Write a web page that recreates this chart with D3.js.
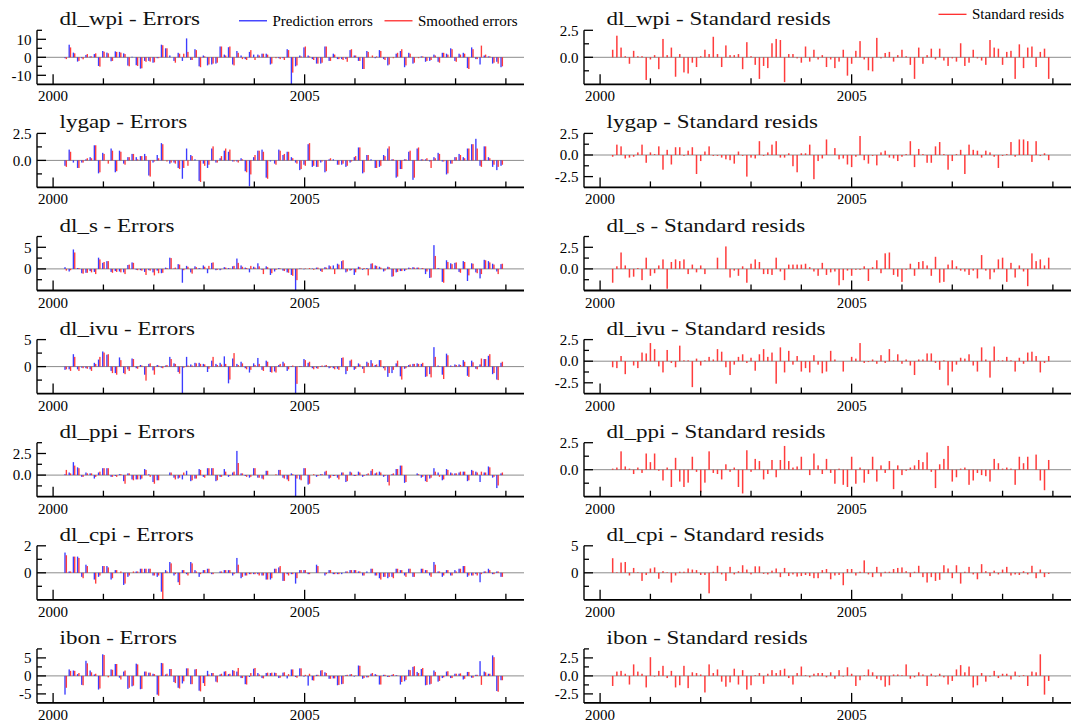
<!DOCTYPE html>
<html><head><meta charset="utf-8">
<script src="https://cdn.jsdelivr.net/npm/d3@7"></script>
<style>body{margin:0;background:#fff}svg{display:block}</style>
</head><body>
<svg id="c" width="1072" height="724"></svg>
<script>
// ---------- data ----------
const startYear = 2000, startMonth = 4;          // first observation 2000(4), monthly, to 2008(12)
const variables = ["dl_wpi","lygap","dl_s","dl_ivu","dl_ppi","dl_cpi","ibon"];
const yearTicks = [2000,2001,2002,2003,2004,2005,2006,2007,2008,2009];
const yearLabels = [2000,2005];
const legendLeft = ["Prediction errors","Smoothed errors"];
const legendRight = ["Standard resids"];

// y-axis domains and tick steps (minor, labelled)
const errDomain = [[-15,15],[-2.5,2.5],[-5,7.5],[-5,5],[-2.5,3.75],[-2,2],[-7.5,7.5]];
const errMinor  = [5,1.25,2.5,2.5,1.25,1,2.5];
const errMajor  = [10,2.5,5,5,2.5,2,5];
const resDomain = [[-2.5,2.5],[-3.75,2.5],[-2.5,3.75],[-3.75,2.5],[-2.5,2.5],[-5,5],[-3.75,3.75]];
const resMinor  = [1.25,1.25,1.25,1.25,1.25,2.5,1.25];
const resMajor  = [2.5,2.5,2.5,2.5,2.5,5,2.5];

// prediction errors (blue) and smoothed errors (red)
const wpiPred = [-0.5,7,2.6,-2.4,-0.5,1.3,0.5,1.8,-4.8,
 3.5,2.6,-2.2,3.3,3,2.2,-4.6,0.3,-4.4,-6.3,-2,-2,
 -3,-0.5,7,5,1,-2,2.5,-2,10.5,-1.5,4.5,-5,
 1,-4.5,-4,-3.5,6,1.5,5.6,-4,3.5,1,-1,3,
 1.5,1.5,2,2,-4,0,-0.5,-0.5,4.5,-15,-5,1,
 5.5,1,-1,-3.5,-3.5,6,-2,2,-1,-1,-1,4,
 1,-2,-6.5,3.5,0,-0.5,4,-1,-4.5,0,2,3.5,
 -5.5,2.5,-3.5,0,0.5,-2.5,-2,1.5,-2.5,2.5,2,5,
 -2,2,2.5,-6,5.5,-1,-4,1,0.5,-3.5,-2.5,-5.5];
const wpiSmooth = [-1,5.5,2.2,-2,-1.1,1.8,0.5,2.2,-5.2,
 3.1,2.2,-2,3,2.6,1.8,-5,0,-4.8,-6.1,-2.5,-2.4,
 -2.8,-0.5,6.7,5,0,-3,2,2,3,-1.5,4,-5.5,
 0.5,-4,-3.5,-3,6,1,6,-4.5,2.5,-1,-1.5,4,
 -1.5,1,2,1.5,-3.5,-0.5,-1,-1.5,4,-8.5,-4.5,0.5,
 6,0.5,-1.5,-3.5,-3,6,-2,1.5,-1,-1.5,-2.5,4.5,
 1,-2,-6.5,3,1,0.5,3.5,-1.5,-4,-0.5,2.5,4.5,
 -4.5,2,-3,-0.5,0.5,-2,-1.5,1,-3,2.5,1.5,4.5,
 -2.5,1.5,2,-6.5,4.5,-1,6.5,1.5,0.5,-3,-3.5,-5];
const lygapPred = [-0.5,1.0,-0.2,-0.7,-0.2,0.1,0.3,1.4,-1.2,
 0.7,0,1.1,-1.1,0.9,-0.3,0.3,0.6,0.3,0.4,0.6,-1.4,
 -0.2,0.5,1.6,0,-0.3,-0.2,-0.7,-1.7,1.1,0.5,0.1,-1.9,
 -0.3,-0.7,1.1,-0.2,0.2,0.9,0.8,-0.1,-0.1,0.2,-1.0,-2.4,
 0.3,0.9,1.0,-1.6,-0.1,-0.3,1.0,0.5,0.8,0.3,-0.2,-0.9,
 -0.4,1.5,-0.6,-0.6,-0.2,-1.1,0.1,0.1,-0.4,-0.4,-0.6,-0.2,
 0.3,1.2,-1.2,0.5,0.1,-0.7,-0.6,0.5,1.1,0.1,-1.6,-0.8,
 0.1,0.8,-1.8,1.1,0.1,0.1,-0.1,0.3,0.7,-0.1,-1.3,-0.3,
 0.3,0.6,0.3,1.1,1.5,2.0,-0.5,1.3,0.3,-0.6,-0.9,-0.5];
const lygapSmooth = [-0.6,0.8,0,-0.7,-0.2,0.2,0.2,1.4,-1.1,
 0.6,-0.3,0.9,-1.0,0.8,-0.4,0.3,0.6,0.1,0.4,0.4,-1.5,
 -0.1,0.2,1.5,-0.1,-0.2,-0.3,-0.8,-0.7,-0.5,0.4,0,-2.0,
 -0.5,-0.4,1.3,-0.2,0.4,1.1,1.0,-0.1,-0.2,0.1,-1.1,-1.3,
 0.5,0.9,0.8,-1.7,0,-0.4,0.9,0.6,0.8,0.2,-0.3,-0.8,
 -0.5,1.6,-0.5,-0.6,-0.1,-1.0,0.2,0,-0.4,-0.3,-0.5,-0.1,
 0.4,1.2,-1.1,0.5,0,-0.7,-0.5,0.4,1.3,0.1,-1.5,-0.8,
 0.1,0.9,-1.6,1.2,0.1,0.2,-0.7,0.2,0.6,-0.1,-1.2,-0.3,
 0.3,0.5,0.2,1.1,1.5,1.1,-0.6,1.3,0.2,-0.4,-0.6,-0.4];
const sPred = [0.4,-0.6,4.5,0.2,-1.0,-0.9,-0.5,-0.7,2.6,
 1.4,1.8,-0.7,-0.5,-0.6,-0.8,0.9,1.5,-0.2,-0.3,-0.7,-0.3,
 -0.8,-0.4,-1.0,0.3,2.6,0.1,1.1,-3.2,0.7,-0.8,0.6,0.2,
 0.8,-1.0,1.4,-0.3,-0.3,0.4,0.2,0.6,2.4,0.8,0.3,-0.8,
 0.5,1.3,-0.2,0.6,-1.4,-0.6,0.2,-0.4,-0.8,-1.4,-5.0,0.1,
 -0.1,0,0.1,0.3,-0.5,0.4,0.8,0.8,1.2,1.8,-0.8,-0.4,
 -1.4,0.5,-0.2,0.2,1.2,0.8,0.5,-0.6,0.5,-1.8,-0.8,-0.5,
 -0.5,0.3,0.4,0.3,0.1,-1.2,-2.1,5.5,0.2,-3.0,2.0,1.3,
 1.4,-0.7,1.8,-2.8,1.3,-0.8,-2.2,2.1,1.8,1.2,-0.6,1.1];
const sSmooth = [-0.4,-0.3,3.8,0.2,-1.1,-0.9,-0.8,-1.2,2.2,
 1.6,1.8,-0.9,-0.7,-0.8,-1.2,1.0,1.4,-0.3,-0.4,-1.4,-0.4,
 -1.5,-1.0,-0.9,0.2,2.5,0.3,1.0,-0.3,0.5,-1.1,0.4,0.1,
 0.5,0.7,1.5,-0.2,-0.1,0.3,0.1,0.7,1.4,0.5,0.2,0.7,
 0.3,0.6,-1.2,0.4,-1.0,-0.2,0.1,-0.5,-0.9,-1.6,-2.6,0.1,
 0.1,0.2,-0.2,0.3,-0.7,0.3,0.6,-1.2,1.0,2.0,-0.6,-0.3,
 -0.8,0.4,0.2,-1.5,1.3,0.7,0.3,-0.4,0.4,-1.7,-0.7,-0.5,
 -0.2,0.2,0.3,0.3,0.2,-0.6,-2.0,3.0,0.1,-3.2,1.6,1.1,
 1.5,-0.9,1.6,-1.5,1.2,-1.0,-1.2,2.0,1.5,1.0,-1.2,1.2];
const ivuPred = [-0.6,-0.5,2.3,-0.5,-0.2,-0.3,-0.5,0.7,1.3,
 2.8,2.2,-0.8,-1.2,1.7,-1.2,-0.5,1.5,-0.3,0.3,-1.5,0.5,
 -0.7,0.3,-0.2,0.2,1.8,0.6,-1.0,-5.0,1.8,0.4,0.7,0.7,
 0.5,-1.0,1.1,0.5,0.7,1.9,-3.1,1.5,0.5,0.9,-0.3,-1.1,
 0.6,1.6,-0.6,1.1,-1.0,-0.9,0.3,0.9,-0.8,0.1,-5.0,0.1,
 1.4,0.7,-0.3,-0.3,0.1,0.2,-0.3,-0.3,-0.4,1.6,-1.4,1.1,
 -0.6,0.6,-0.4,0.9,1.2,0.3,1.2,-0.3,-1.9,-1.2,0.6,-1.8,
 -0.4,0.3,0.5,0.6,0.5,-1.9,-1.4,3.6,0.2,-1.5,2.4,0.2,
 0.4,0.4,1.2,-1.7,1.1,-0.4,0.4,1.4,2.0,-1.4,-2.4,0.7];
const ivuSmooth = [-0.5,-0.8,1.8,-0.8,-0.3,-0.4,-0.8,0.5,1.8,
 2.6,2.3,-1.2,-1.5,1.2,-1.4,-0.8,1.4,-0.4,0.2,-2.6,0.6,
 -1.5,0.2,-0.3,0.3,1.4,0.5,-1.3,-0.2,0.2,0.2,0.6,0.5,
 0.4,-0.4,1.8,0.3,0.4,0.5,-2.4,2.5,0.3,0.6,-0.5,-0.6,
 0.3,0.5,-0.8,0.9,-1.1,-1.1,0.5,0.6,-0.5,0.2,-3.2,0.1,
 1.2,0.9,-0.5,-0.4,0.2,0.3,-0.2,-0.5,-0.6,1.7,-0.8,1.3,
 -0.4,0.4,-1.2,0.7,0.6,0.4,1.2,-0.7,-1.2,-0.6,1.1,-2.4,
 -0.3,0.4,0.5,0.5,0.7,-1.8,-2.0,1.8,0.1,-2.3,2.1,0.1,
 0.3,0.3,0.9,-1.9,0.8,-0.5,1.5,1.4,2.3,-1.2,-2.5,0.9];
const ppiPred = [0.1,0.3,1.5,0.9,-0.2,0.3,0.2,-0.4,0.3,
 0.8,0.8,-0.2,-0.1,0.1,-0.7,0.2,-0.5,-0.5,-0.5,0.7,0.1,
 -0.8,-0.6,0,0,0.3,-0.3,-0.4,-0.5,0.5,-0.7,-0.4,0.7,
 -0.2,0.8,0.8,-0.7,-0.2,0.7,-0.2,0.3,2.8,0.2,-0.1,-0.3,
 0.8,-0.3,-0.4,0.5,0,0,0.6,-0.3,-0.5,0.2,-2.5,-0.5,
 0.8,-1.1,0,-0.2,0.1,0.4,-0.4,-0.1,-0.3,0.3,-0.8,0.4,
 -0.1,0.4,-0.2,0.1,0.5,0.2,0.4,-0.2,-0.8,0.1,0.7,1.1,
 -0.9,0,0,0.2,-0.3,-0.7,-0.4,0.8,0.3,-0.6,0.7,0.3,
 0.2,0.3,0.4,-0.7,0.6,0.4,-0.8,0.3,1.0,-0.3,-1.5,0.2];
const ppiSmooth = [0.6,0.2,1.1,0.8,-0.2,0.2,0.2,-0.2,0.4,
 0.8,0.8,-0.2,-0.2,0.1,-1.0,0.2,-0.6,-0.5,-0.4,0.6,-0.2,
 -1.0,-0.6,0,0,0.3,-0.5,-0.3,0.3,0,-0.6,-0.4,0.6,
 -0.3,0.8,0.8,-0.6,-0.2,0.4,-0.1,0.4,1.4,0.2,-0.2,-0.2,
 0.8,-0.3,-0.5,0.5,0,0.1,0.6,-0.4,-0.7,0.1,-0.4,-0.6,
 0.8,-1.0,0.1,-0.1,0.1,0.5,-0.3,-0.1,-0.5,0.3,-0.7,0.3,
 -0.1,0.3,-0.1,0.2,0.7,0.3,0.3,-0.1,-1.2,0.2,0.7,1.1,
 -0.8,0,0,0.1,-0.2,-0.8,-0.3,0.4,-0.2,-0.5,0.6,0.2,
 0.2,0.4,0.4,-0.6,0.5,0.3,0.4,0.3,0.9,-0.2,-1.2,0.3];
const cpiPred = [1.5,0.1,1.2,1.2,-0.3,0.6,0,-0.5,-0.3,
 0.5,0.5,-0.5,0.2,0,-0.9,-0.3,0,0.1,0.3,0.3,0.3,
 -0.2,-0.3,-1.4,0.2,0.8,-0.2,-0.7,0.2,-0.1,0.8,0.2,-0.3,
 0.2,0.3,-0.1,0,0.1,0.2,0.2,-0.2,1.1,-0.4,-0.2,-0.1,
 -0.1,-0.1,-0.2,-0.5,-0.5,0.3,0.4,-0.6,-0.1,-0.1,-0.8,0.2,
 0.2,-0.1,0,0.6,0,-0.2,0.2,-0.1,-0.1,-0.1,0.1,0.2,
 0.2,0.1,-0.2,0.1,0.3,-0.2,-0.4,-0.3,-0.4,-0.3,0.3,0.2,
 -0.2,0.3,-0.3,0,0.3,0.2,-0.2,0.8,0.1,-0.3,0.2,-0.2,
 0.2,0.3,0.5,-0.3,-0.2,-0.1,-0.7,0.1,0.3,-0.1,0.1,-0.3];
const cpiSmooth = [1.3,0.1,1.2,1.1,-0.4,0.5,0,-0.8,-0.2,
 0.5,0.4,-0.4,0.2,0.1,-0.8,-0.2,0.1,0.1,0.3,0.3,0.3,
 -0.2,-0.2,-2.0,0.1,0.7,-0.1,-0.9,0.2,-0.2,0.7,0.1,-0.1,
 0.2,0.3,-0.1,0,0.1,0.2,0.2,-0.1,0.6,-0.3,-0.2,-0.1,
 -0.1,-0.2,-0.2,-0.5,-0.4,0.3,0.5,-0.6,-0.2,-0.1,-0.4,0.2,
 0.2,-0.1,0,0.5,0,-0.1,0.2,-0.1,-0.1,0,0.1,0.2,
 0.2,0.1,-0.2,0,0.3,-0.2,-0.5,-0.3,-0.3,-0.4,0.3,0.2,
 -0.3,0.3,-0.3,0,0.3,0.2,-0.3,0.6,0.1,-0.2,0.2,-0.2,
 0.1,0.3,0.5,-0.2,-0.2,-0.2,-0.1,0.1,0.2,-0.1,0.1,-0.3];
const ibonPred = [-5.2,1.8,1.5,0.5,-2.5,4.2,1.5,0.4,-3.8,
 6.0,0,1.8,3.3,-0.5,1.2,-3.6,-2.9,3.4,-3.7,1.2,0.9,
 0.6,-5.2,3.6,0.4,1.9,-1.7,-3.3,-2.1,2.1,-2.3,1.8,-4.1,
 -2.0,1.4,0.8,-1.6,0.4,1.2,0.5,1.6,1.2,-0.6,-2.3,-0.3,
 2.0,0.8,-0.6,0.8,0.8,0.9,-0.6,0.9,-0.7,1.8,-0.3,2.1,
 -0.2,-2.7,-1.2,0.3,1.5,1.0,-0.8,-0.7,-2.6,-2.3,0.2,0.4,
 -0.2,2.9,-0.8,-0.4,0.6,0.5,-2.4,0.3,-0.3,0.3,0.2,-2.4,
 -1.5,1.7,2.5,1.1,1.9,-2.6,-2.4,1.5,-1.6,-0.6,1.2,-0.6,
 0.6,0.6,-1.0,1.1,-0.5,0.3,4.1,1.2,0.6,5.7,-4.2,-1.2];
const ibonSmooth = [-3.3,1.4,1.4,0.8,-2.6,3.5,1.0,0.6,-3.5,
 5.8,-0.4,1.7,3.3,-1.0,1.5,-3.3,-2.7,3.2,-3.6,1.2,0.9,
 0.5,-5.5,3.5,0.6,1.9,-2.0,-3.5,-1.5,2.1,-2.3,1.9,-4.3,
 -2.8,0.4,0.8,-1.8,0.6,1.3,0.6,1.4,2.2,-0.6,-2.4,0.8,
 2.2,0.4,-0.7,0.9,0.9,0.8,-0.5,1.0,0.5,1.8,-0.5,2.1,
 0.3,0.6,-1.3,0.3,1.6,0.8,-0.8,-0.7,-2.5,-2.2,0.3,0.5,
 0.1,2.8,-0.6,-0.4,0.8,0.3,-2.4,0.3,-0.3,0.5,0.1,-1.7,
 -1.1,1.6,2.7,0.8,2.2,-2.5,-2.2,1.1,-1.4,-0.4,1.3,-0.6,
 0.6,0.7,-0.8,1.1,-0.5,0.3,-2.5,1.0,0.6,5.2,-4.4,-1.2];

// standardised residuals
const wpiStd = [0.7,2.0,0.9,0.1,-0.6,0.6,0.1,0.1,-2.1,
 -0.2,0.2,-1.1,1.7,0.2,0.9,-1.8,0.3,-1.4,-1.5,-0.5,-0.9,
 0.1,0.7,0.3,1.9,0.3,-0.9,1.1,0.2,0.2,0.3,-1.1,1.4,
 0.1,-0.7,-2.0,-0.8,-1.0,1.3,1.7,1.6,-2.3,0.3,0.3,-0.1,
 -0.5,1.0,-0.4,0.7,-0.2,0.2,-0.9,-0.2,-1.0,-0.4,0.7,-1.7,
 -0.6,0.6,1.5,-0.2,-1.2,-1.3,1.8,-0.1,0.4,0.5,-0.4,0.2,
 0.7,0.1,-0.7,-2.0,0.9,-0.6,0.2,0.8,-0.2,0.8,-0.3,-0.8,
 -0.1,-0.4,1.3,-0.8,-0.5,0.7,-0.1,-0.3,-0.7,1.6,0.9,0.8,
 -0.7,0.5,0.6,-2.0,1.2,-1.0,0.9,1.0,-0.9,0.5,0.8,-2.0];
const lygapStd = [-0.2,1.2,1.0,-0.4,-0.3,-0.2,0.3,1.2,-0.9,
 0.3,0.1,1.0,-1.7,0.6,-1.1,0.9,0.9,-0.1,0.5,0.9,-2.2,
 -0.7,0.4,1.0,-0.1,-0.1,-0.3,-0.5,-0.6,-1.0,0.4,-0.1,-2.5,
 -0.3,-0.4,1.6,-0.1,0.3,1.2,1.6,-0.3,-0.3,0.2,-1.3,-2.0,
 0.2,0.2,1.2,-2.8,-0.7,-0.4,1.8,0,0.8,-0.5,-0.4,-1.1,
 -1.4,-0.2,2.2,-0.6,-1.0,-0.1,-1.2,0.3,0.5,-0.3,-0.4,-0.7,
 -0.2,0.1,1.6,-1.4,0.7,0.1,-0.9,-0.9,1.0,1.5,0.1,-1.7,
 -0.7,0.1,0.6,-2.2,1.2,0.6,0.5,-0.3,0.5,0.3,-0.2,-1.5,
 -0.1,0.1,1.5,-0.2,1.8,1.8,1.6,-0.8,1.6,-0.1,0.2,-0.6];
const sStd = [-1.6,0.3,1.9,0.4,-1.0,-0.9,0.1,-1.3,1.3,
 -0.8,-0.5,0.4,1.1,-2.3,0.8,1.1,0.9,1.1,-0.6,0.5,-0.4,
 0.4,-0.6,0,0,1.3,0,2.6,-1.0,-0.2,-0.8,0.3,-1.6,
 0.6,1.1,0.8,-0.6,-0.6,-0.7,1.3,-0.3,-1.3,0.5,0.5,0.5,
 0.5,0.6,0.2,-0.3,-0.8,0.7,-0.7,-0.4,-0.3,-1.9,-1.3,-0.2,
 -0.8,-0.1,-0.1,0.3,-1.4,0.2,1.0,-0.5,1.8,1.9,-0.7,-0.9,
 -1.5,-0.1,0.6,-0.8,0.8,0.9,0.4,-0.8,1.4,-1.6,-1.5,0.5,
 1.0,0.3,-0.2,-0.3,-0.7,-0.2,-1.1,1.6,-0.2,-1.2,-0.4,1.1,
 1.3,-1.5,0.7,-1.0,0.4,-0.3,-2.0,1.8,0.9,1.1,0.4,1.3];
const ivuStd = [-0.7,-0.8,0.6,-1.5,0,-0.5,-0.8,1.0,0.9,
 2.1,1.4,-0.6,-1.3,1.3,-0.2,-0.7,1.8,0.1,0.1,-3.0,0.3,
 -0.5,0.1,0.5,0.2,1.4,1.1,-0.7,-1.6,-0.4,0.5,0.8,-0.2,
 0.4,-1.1,0.8,1.4,0.5,1.0,-2.6,1.6,-1.3,1.2,-0.4,0.6,
 -1.2,-0.8,-1.3,0.7,-0.4,-1.4,-1.2,1.2,0.2,0,-1.2,0,
 0.5,0.3,2.1,-0.2,-0.1,0.2,-0.3,0.7,-0.2,1.4,0.1,0.8,
 -0.3,0.2,-0.5,-1.6,0.2,0.2,0.9,0.9,-0.2,-1.0,0.1,-2.8,
 -1.2,-0.4,0.4,0.3,0.8,-0.5,-1.2,1.6,0.2,-1.9,1.7,0.1,
 0.1,0.5,0.1,-1.2,0.4,-0.3,1.0,1.1,0.6,-1.3,-0.2,0.6];
const ppiStd = [0.1,0.2,1.7,0.3,0.1,-0.4,0.2,-0.3,1.5,
 0.7,1.5,-0.1,-1.0,0.2,-1.6,1.1,-1.1,-1.6,-1.2,1.2,-0.2,
 -2.1,-1.2,1.7,-0.3,-0.4,-0.9,0.5,-0.2,0.2,-1.6,-2.2,1.8,
 -0.2,1.0,0.8,-0.9,-0.4,0.9,-0.7,0.9,2.2,0.8,0.2,0.3,
 1.2,0,-0.5,1.5,0.4,-0.4,1.0,-0.3,-1.3,0.1,-1.4,-1.6,
 1.2,-1.3,0.2,-1.2,-0.4,1.2,-1.1,0.4,-0.3,0.8,-1.8,0.4,
 -0.5,-0.1,0.2,0.4,0.9,0.7,1.6,-0.2,-1.7,0.5,1.0,2.2,
 -1.1,-0.7,0.1,0.2,-1.4,-1.0,-0.3,-0.5,-0.6,-1.1,1.0,0.6,
 0.1,0.2,0.1,-1.4,1.2,0.6,1.2,0,1.4,-1.0,-1.9,0.9];
const cpiStd = [2.7,0.1,1.9,2.0,-0.5,0.9,0.1,-1.5,-0.4,
 0.8,1.0,-1.1,0.3,0.1,-1.8,-0.5,0.2,0.2,0.8,0.6,0.5,
 -0.4,-0.4,-3.8,0.2,1.3,-0.3,-1.5,1.1,-0.3,0.3,1.4,0.6,
 -0.3,1.2,1.2,-0.2,-0.3,0.4,0.8,-0.8,0.9,-0.6,-0.3,-0.7,
 -0.6,-0.4,-0.6,-1.0,-1.0,0.5,0.7,-1.2,-0.5,-0.4,-2.3,0.7,
 0.7,-0.5,0.2,2.3,-0.3,-0.8,1.1,-0.7,0.2,0.2,0.7,0.9,
 1.0,0.3,-0.8,0.2,1.3,-0.8,-1.8,-0.8,-1.5,-1.3,1.4,0.8,
 -1.0,1.4,-2.0,0.2,1.1,-0.3,-1.2,1.6,0.3,-0.6,0.4,-0.3,
 0.6,1.1,-0.5,-0.3,-0.4,0.3,-0.3,1.3,-1.0,0.6,-0.8,-0.2];
const ibonStd = [-1.4,0.6,0.7,0.3,-1.2,1.6,0.6,0.3,-1.6,
 2.6,-0.1,0.7,1.4,-0.3,0.7,-1.6,-1.3,1.4,-1.7,0.5,0.4,
 0.2,-2.3,1.6,0.4,0.9,-0.8,-1.5,-0.9,1.0,-1.2,0.8,-1.9,
 -1.3,0.1,0.4,-1.1,0.3,0.8,0.4,0.8,1.0,-0.3,-1.2,0.4,
 1.3,0.1,-0.2,0.3,0.4,0.4,-0.2,0.5,-0.4,0.8,-0.1,1.2,
 0.3,-1.4,-0.6,0.1,0.9,0.5,-0.4,-0.6,-1.5,-1.3,0.2,0.2,
 0.1,1.6,-0.4,-0.2,0.5,0.2,-1.4,0.3,-0.1,0.3,-0.2,-1.2,
 -0.7,0.9,1.5,0.5,1.3,-1.6,-1.3,0.4,-0.8,-0.1,0.7,-0.3,
 0.3,0.3,-0.5,0.6,-0.1,0.1,-1.4,0.6,0.5,3.0,-2.6,-0.7];

const predSeries   = [wpiPred, lygapPred, sPred, ivuPred, ppiPred, cpiPred, ibonPred];
const smoothSeries = [wpiSmooth, lygapSmooth, sSmooth, ivuSmooth, ppiSmooth, cpiSmooth, ibonSmooth];
const stdSeries    = [wpiStd, lygapStd, sStd, ivuStd, ppiStd, cpiStd, ibonStd];

// ---------- drawing ----------
const svg = d3.select("#c");
const FONT = "'Liberation Serif','Times New Roman',Times,serif";
const BLUE = "#1a1aff", RED = "#ff1a1a";
const rowTop = k => 30.3 + 103.1 * k;
const plotH = 54;
const xDomain = [1999.68, 2009.36];
const timeOf = i => startYear + (startMonth - 1 + i) / 12;
const fmtFor = step => Number.isInteger(step) ? d3.format("d") : d3.format(".1f");

function panel(k, x0, x1, title, domain, minor, major, series) {
  const top = rowTop(k), bottom = top + plotH;
  const g = svg.append("g");
  const x = d3.scaleLinear().domain(xDomain).range([x0, x1]);
  const y = d3.scaleLinear().domain(domain).range([bottom, top]);
  const clamp = v => Math.max(domain[0], Math.min(domain[1], v));

  // title (stretched horizontally, as in the original)
  g.append("text")
    .attr("transform", `translate(${x0 + 22.5},${top - 5}) scale(1.18,1)`)
    .attr("font-family", FONT).attr("font-size", 19.5).attr("fill", "#111")
    .text(title);

  // zero line
  g.append("line").attr("x1", x0).attr("x2", x1)
    .attr("y1", y(0)).attr("y2", y(0))
    .attr("stroke", "#8c8c8c").attr("stroke-width", 1);

  // bars
  series.forEach((s, si) => {
    const n = series.length;
    const w = n === 1 ? 1.5 : 1.35;
    const off = n === 1 ? -0.75 : (si === 0 ? -1.35 : 0);
    g.append("g").attr("fill-opacity", 0.85).selectAll("rect").data(s).join("rect")
      .attr("x", (d, i) => x(timeOf(i)) + off)
      .attr("width", w)
      .attr("y", d => Math.min(y(0), y(clamp(d))))
      .attr("height", d => Math.abs(y(clamp(d)) - y(0)))
      .attr("fill", n === 1 ? RED : (si === 0 ? BLUE : RED));
  });

  // y axis
  g.append("line").attr("x1", x0).attr("x2", x0).attr("y1", top).attr("y2", bottom)
    .attr("stroke", "#000").attr("stroke-width", 1.4);
  const fmt = fmtFor(major);
  const nT = Math.round((domain[1] - domain[0]) / minor);
  for (let j = 1; j <= nT; j++) {
    const v = domain[0] + j * minor;
    const isMajor = Math.abs(v / major - Math.round(v / major)) < 1e-6;
    g.append("line").attr("x1", x0).attr("x2", x0 + (isMajor ? 9 : 5))
      .attr("y1", y(v)).attr("y2", y(v)).attr("stroke", "#000").attr("stroke-width", 1.3);
    if (isMajor) {
      g.append("text").attr("x", x0 - 5.5).attr("y", y(v)).attr("dy", "0.35em")
        .attr("text-anchor", "end").attr("font-family", FONT).attr("font-size", 15)
        .text(fmt(Math.abs(v) < 1e-9 ? 0 : v).replace("\u2212", "-"));
    }
  }

  // x axis
  g.append("line").attr("x1", x0).attr("x2", x1).attr("y1", bottom).attr("y2", bottom)
    .attr("stroke", "#000").attr("stroke-width", 1.8);
  yearTicks.forEach(yr => {
    const big = yearLabels.includes(yr);
    g.append("line").attr("x1", x(yr)).attr("x2", x(yr))
      .attr("y1", bottom).attr("y2", bottom - (big ? 10 : 6))
      .attr("stroke", "#000").attr("stroke-width", 1.3);
  });
  yearLabels.forEach(yr => {
    g.append("text").attr("x", x(yr)).attr("y", bottom + 17)
      .attr("text-anchor", "middle").attr("font-family", FONT).attr("font-size", 15)
      .text(yr);
  });
}

variables.forEach((v, k) => {
  panel(k, 37, 524, `${v} - Errors`, errDomain[k], errMinor[k], errMajor[k],
        [predSeries[k], smoothSeries[k]]);
  panel(k, 584, 1071, `${v} - Standard resids`, resDomain[k], resMinor[k], resMajor[k],
        [stdSeries[k]]);
});

// legends
function legendItem(x, yLine, yText, color, label) {
  svg.append("line").attr("x1", x).attr("x2", x + 28).attr("y1", yLine).attr("y2", yLine)
    .attr("stroke", color).attr("stroke-width", 1.2);
  svg.append("text").attr("x", x + 33.5).attr("y", yText)
    .attr("font-family", FONT).attr("font-size", 15).text(label);
}
legendItem(239, 20.8, 25.8, BLUE, legendLeft[0]);
legendItem(384.5, 20.8, 25.8, RED, legendLeft[1]);
legendItem(938.5, 14.3, 18.8, RED, legendRight[0]);
</script>
</body></html>
